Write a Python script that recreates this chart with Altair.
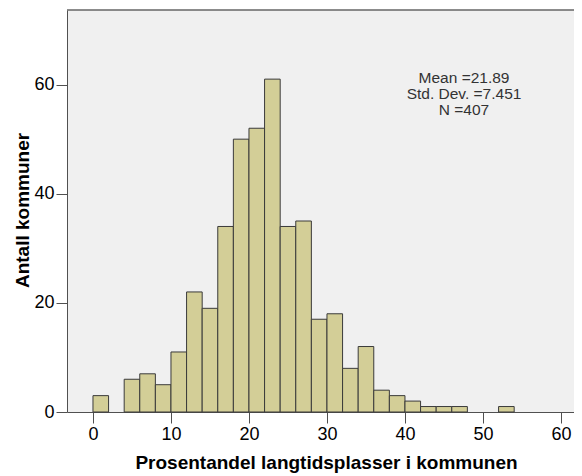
import altair as alt
import pandas as pd

bin_start = [0, 2, 4, 6, 8, 10, 12, 14, 16, 18, 20, 22, 24, 26, 28, 30, 32, 34,
             36, 38, 40, 42, 44, 46, 48, 50, 52]
counts = [3, 0, 6, 7, 5, 11, 22, 19, 34, 50, 52, 61, 34, 35, 17, 18, 8, 12,
          4, 3, 2, 1, 1, 1, 0, 0, 1]
bin_width = 2
x_ticks = [0, 10, 20, 30, 40, 50, 60]
y_ticks = [0, 20, 40, 60]
stats_text = ["Mean =21.89", "Std. Dev. =7.451", "N =407"]

df = pd.DataFrame({"start": bin_start, "count": counts})
df["end"] = df["start"] + bin_width
df = df[df["count"] > 0]

FONT = "Liberation Sans"
xscale = alt.Scale(domain=[-3.33, 61.67], nice=False, zero=False)
yscale = alt.Scale(domain=[0, 73.67], nice=False)

bars = alt.Chart(df).mark_rect(
    fill="#d3ce97", stroke="#3a3a3a", strokeWidth=1
).encode(
    x=alt.X("start:Q", scale=xscale,
            axis=alt.Axis(values=x_ticks, title="Prosentandel langtidsplasser i kommunen",
                          grid=False, tickSize=11, labelFontSize=18, labelPadding=2,
                          titleFontSize=19, titleFontWeight="bold",
                          titleBaseline="alphabetic", titleX=259, titleY=56,
                          domainColor="#505050", tickColor="#505050", labelColor="#000000",
                          titleColor="#000000", labelFont=FONT, titleFont=FONT)),
    x2="end:Q",
    y=alt.Y("count:Q", scale=yscale,
            axis=alt.Axis(values=y_ticks, title="Antall kommuner", grid=False,
                          tickSize=11, labelFontSize=18, labelPadding=2,
                          titleFontSize=19, titleFontWeight="bold",
                          titleBaseline="alphabetic", titleX=-39, titleY=200,
                          domainColor="#505050", tickColor="#505050", labelColor="#000000",
                          titleColor="#000000", labelFont=FONT, titleFont=FONT)),
    y2=alt.datum(0),
)

top_border = alt.Chart(pd.DataFrame({"a": [0]})).mark_rule(
    color="#666666", strokeWidth=1.5
).encode(y=alt.value(0))

note = alt.Chart(pd.DataFrame({"a": [0]})).mark_text(
    text=stats_text, font=FONT, fontSize=15.5, lineHeight=16.3, color="#333333",
    align="center", baseline="alphabetic"
).encode(x=alt.value(397), y=alt.value(72.7))

chart = alt.layer(bars, top_border, note).properties(
    width=507, height=402,
    autosize=alt.AutoSizeParams(type="none"),
    padding={"left": 59, "top": 2, "right": 0, "bottom": 64},
    background="white",
).configure_view(stroke=None, fill="#f0f0f0")

chart.save("out.html", embed_options={"renderer": "svg", "actions": False})
